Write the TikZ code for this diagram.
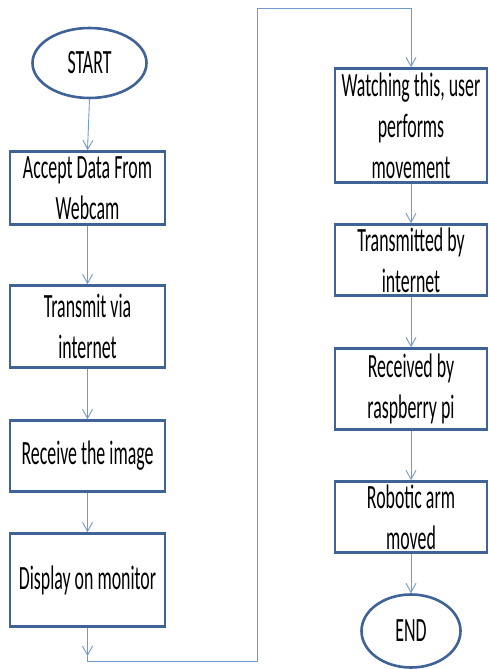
\documentclass[tikz,border=0pt]{standalone}
\usepackage{fontspec}
\setmainfont[FakeStretch=0.525]{Carlito}
\usetikzlibrary{arrows.meta,shapes.geometric}
\definecolor{boxline}{HTML}{3F6396}
\definecolor{conline}{HTML}{6F9AD0}
\tikzset{
  stepbox/.style={draw=boxline, line width=2.6pt, rectangle, minimum width=155pt, inner sep=0pt, align=center, font=\fontsize{34}{41}\selectfont},
  term/.style={draw=boxline, line width=2.6pt, ellipse, inner sep=0pt, font=\fontsize{34}{40}\selectfont},
  conn/.style={draw=conline, line width=0.9pt},
  arr/.style={conn, -{Straight Barb[length=9pt,width=10pt,line width=0.9pt]}}
}
\begin{document}
\begin{tikzpicture}[x=1pt,y=-1pt]
\useasboundingbox (0,0) rectangle (489,669);
\node[term, minimum width=114pt, minimum height=70pt] (start) at (89.5,63) {START};
\node[stepbox, minimum height=73pt] (b1) at (87.5,188) {Accept Data From\\Webcam};
\node[stepbox, minimum height=82pt] (b2) at (87.5,326.5) {Transmit via\\internet};
\node[stepbox, minimum height=71pt] (b3) at (87.5,456) {Receive the image};
\node[stepbox, minimum height=93pt] (b4) at (87.5,580) {Display on monitor};
\node[stepbox, minimum width=152pt, minimum height=114pt] (b5) at (411,125.5) {Watching this, user\\performs\\movement};
\node[stepbox, minimum width=152pt, minimum height=71pt] (b6) at (411,260) {Transmitted by\\internet};
\node[stepbox, minimum width=152pt, minimum height=81pt] (b7) at (411,389) {Received by\\raspberry pi};
\node[stepbox, minimum width=152pt, minimum height=71pt] (b8) at (411,517) {Robotic arm\\moved};
\node[term, minimum width=99pt, minimum height=73pt] (end) at (411,631) {END};
\coordinate (c0) at (87.5,656);
\coordinate (c1) at (87.5,661);
\coordinate (c2) at (257,8);
\draw[arr] (start.south) -- (b1.north);
\draw[arr] (b1.south) -- (b2.north);
\draw[arr] (b2.south) -- (b3.north);
\draw[arr] (b3.south) -- (b4.north);
\draw[arr] (b4.south) -- (c0);
\draw[arr] (c0) -- (c1) -| (c2) -| (b5.north);
\draw[arr] (b5.south) -- (b6.north);
\draw[arr] (b6.south) -- (b7.north);
\draw[arr] (b7.south) -- (b8.north);
\draw[arr] (b8.south) -- (end.north);
\end{tikzpicture}
\end{document}
